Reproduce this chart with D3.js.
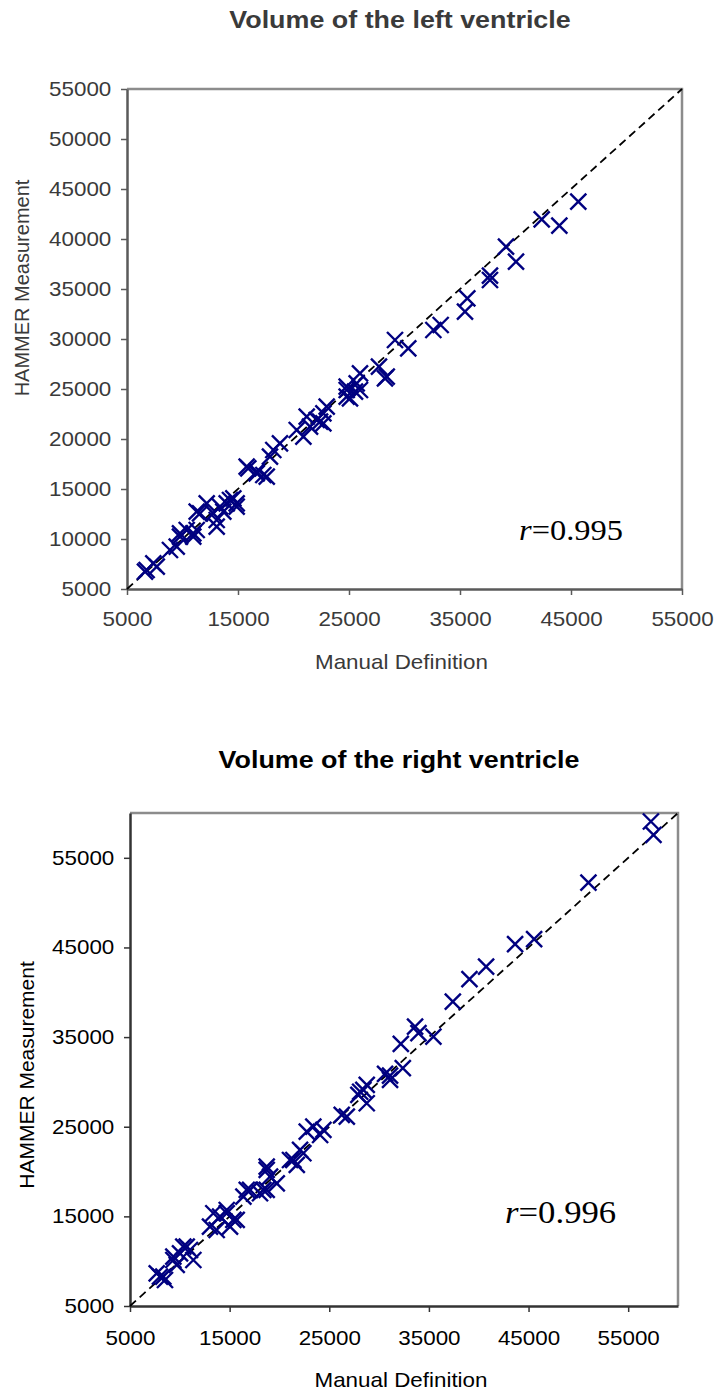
<!DOCTYPE html>
<html>
<head>
<meta charset="utf-8">
<script src="https://cdn.jsdelivr.net/npm/d3@7"></script>
<style>
  body { margin: 0; background: #fff; }
  svg { display: block; }
</style>
</head>
<body>
<div id="chart"></div>
<script>
// left ventricle: [manual, hammer]
const leftPoints = [
  [45658, 43730], [42360, 41970], [43950, 41330], [39144, 39230], [40045, 37730],
  [37700, 36330], [37700, 35900], [35660, 34070], [35450, 32730], [32600, 30900],
  [33260, 31400], [29144, 29900], [30340, 29070], [27700, 27230], [28400, 26230],
  [28240, 26070], [25990, 26570], [25690, 25570], [24790, 24900], [24790, 24230],
  [25990, 24900], [25090, 24070], [25540, 24730], [24790, 25230],
  [22690, 22570], [22090, 21900], [21490, 21230], [20290, 20900], [20890, 20230],
  [22690, 21570], [21190, 22230], [22990, 23230], [22390, 21730],
  [18780, 19570], [17880, 18230], [15780, 17230], [16680, 16570], [17590, 16230],
  [18180, 18900], [17280, 16400], [15930, 17070], [16680, 16730],
  [14280, 13900], [13380, 13230], [12770, 12570], [13080, 11230], [12180, 13570],
  [14880, 13230], [11280, 12730], [14580, 14070], [13980, 13570], [13080, 11900],
  [13680, 12730], [11580, 12570], [14880, 13570],
  [10380, 10900], [9775, 10230], [10970, 10230], [9480, 9230], [8870, 8900],
  [10970, 10570], [9775, 10570], [11280, 10900],
  [7370, 7570], [6770, 6900], [7680, 7230], [6620, 6730]
];

// right ventricle: [manual, hammer]
const rightPoints = [
  [57280, 59050], [57540, 57570], [51010, 52240], [45560, 45930], [43650, 45370],
  [40740, 42870], [39070, 41460], [37400, 38960], [35450, 35060], [33610, 36170],
  [33950, 35440], [32180, 34240], [32380, 31530], [30600, 30900], [31100, 30700],
  [31100, 30220], [28420, 29110], [28760, 29670], [27920, 28550], [28760, 27620],
  [28100, 28900], [26760, 26130], [26250, 26320],
  [24410, 24640], [23400, 25010], [24080, 24080], [22740, 24450], [22070, 22410],
  [21400, 21290], [22400, 22040], [21740, 20740], [21060, 21290],
  [18720, 20180], [19060, 19430], [18720, 17950], [19730, 18690], [18050, 17580],
  [16720, 17950], [16380, 17200], [18720, 20550], [17050, 17950], [18380, 17950],
  [14710, 15350], [14040, 14970], [15370, 14600], [15040, 13850], [13360, 15350],
  [13700, 13480], [14710, 15710], [15710, 14600], [13030, 13850],
  [11020, 11250], [10020, 10880], [9350, 10130], [11360, 10130], [9690, 9580],
  [10690, 11620], [10350, 11620], [9350, 10500],
  [8010, 8270], [8510, 7900], [8340, 8270], [7680, 8650]
];

const leftTicksX = [5000, 15000, 25000, 35000, 45000, 55000];
const leftTicksY = [5000, 10000, 15000, 20000, 25000, 30000, 35000, 40000, 45000, 50000, 55000];
const rightTicksX = [5000, 15000, 25000, 35000, 45000, 55000];
const rightTicksY = [5000, 15000, 25000, 35000, 45000, 55000];

const stretch = 1.12; // the source image is widened a little

const svg = d3.select("#chart").append("svg")
  .attr("width", 715)
  .attr("height", 1392);

const drawPanel = cfg => {
  const x = d3.scaleLinear().domain(cfg.domain).range([cfg.left, cfg.right]);
  const y = d3.scaleLinear().domain(cfg.domain).range([cfg.bottom, cfg.top]);
  const g = svg.append("g");

  // title
  g.append("text")
    .text(cfg.title)
    .attr("transform", `translate(${cfg.titleX},${cfg.titleY}) scale(${stretch},1)`)
    .style("font-family", "Liberation Sans, Arial, sans-serif")
    .style("font-size", "24px")
    .style("font-weight", 700)
    .style("fill", cfg.color)
    .style("text-anchor", "middle");

  // top and right frame
  g.append("path")
    .attr("d", `M${cfg.left},${cfg.top}H${cfg.right}V${cfg.bottom}`)
    .attr("fill", "none")
    .attr("stroke", "#8c8c8c")
    .attr("stroke-width", 2.5);

  // axes
  const xAxis = g.append("g")
    .attr("transform", `translate(0,${cfg.bottom})`)
    .call(d3.axisBottom(x).tickValues(cfg.ticksX).tickSize(6).tickSizeOuter(0).tickPadding(cfg.padX).tickFormat(d3.format("d")));
  const yAxis = g.append("g")
    .attr("transform", `translate(${cfg.left},0)`)
    .call(d3.axisLeft(y).tickValues(cfg.ticksY).tickSize(6).tickSizeOuter(0).tickPadding(8).tickFormat(d3.format("d")));

  [xAxis, yAxis].forEach(a => {
    a.select(".domain").attr("stroke", cfg.axisColor).attr("stroke-width", 2.5);
    a.selectAll(".tick line").attr("stroke", cfg.axisColor).attr("stroke-width", 1.5);
    a.selectAll("text")
      .style("font-family", "Liberation Sans, Arial, sans-serif")
      .style("font-size", "20px")
      .style("fill", cfg.color)
      .attr("transform", `scale(${stretch},1)`);
  });

  // identity line
  g.append("line")
    .attr("x1", x(cfg.domain[0]))
    .attr("y1", y(cfg.domain[0]))
    .attr("x2", x(cfg.lineEnd))
    .attr("y2", y(cfg.lineEnd))
    .attr("stroke", "#000")
    .attr("stroke-width", 1.8)
    .attr("stroke-dasharray", "8,5");

  // X markers
  const s = 8;
  g.selectAll(".mark")
    .data(cfg.points)
    .enter()
    .append("path")
    .attr("class", "mark")
    .attr("d", d => {
      const cx = x(d[0]), cy = y(d[1]);
      return `M${cx - s},${cy - s}L${cx + s},${cy + s}M${cx - s},${cy + s}L${cx + s},${cy - s}`;
    })
    .attr("stroke", "#000080")
    .attr("stroke-width", 2.4)
    .attr("fill", "none");

  // axis titles
  g.append("text")
    .text("Manual Definition")
    .attr("transform", `translate(${(cfg.left + cfg.right) / 2 - 3},${cfg.xLabelY}) scale(${stretch},1)`)
    .style("font-family", "Liberation Sans, Arial, sans-serif")
    .style("font-size", "20px")
    .style("fill", cfg.color)
    .style("text-anchor", "middle");

  g.append("text")
    .text("HAMMER Measurement")
    .attr("transform", `translate(${cfg.yLabelX},${cfg.yLabelY}) rotate(-90)`)
    .style("font-family", "Liberation Sans, Arial, sans-serif")
    .style("font-size", cfg.yLabelSize)
    .style("fill", cfg.color)
    .style("text-anchor", "middle");

  // correlation
  const rt = g.append("text")
    .attr("transform", `translate(${cfg.rX},${cfg.rY}) scale(${stretch},1)`)
    .style("font-family", "Liberation Serif, Times New Roman, serif")
    .style("font-size", cfg.rSize)
    .style("fill", "#000");
  rt.append("tspan").text("r").style("font-style", "italic");
  rt.append("tspan").text(cfg.rText);
};

drawPanel({
  title: "Volume of the left ventricle",
  titleX: 400, titleY: 28,
  color: "#3a3a3a", axisColor: "#5a5a5a",
  left: 127, right: 682, top: 89, bottom: 589,
  domain: [5000, 55000], lineEnd: 55000,
  ticksX: leftTicksX, ticksY: leftTicksY, padX: 17,
  points: leftPoints,
  xLabelY: 669, yLabelX: 29, yLabelY: 288, yLabelSize: "20px",
  rX: 519, rY: 540, rText: "=0.995", rSize: "29px"
});

drawPanel({
  title: "Volume of the right ventricle",
  titleX: 399, titleY: 768,
  color: "#000", axisColor: "#333",
  left: 130, right: 678, top: 813, bottom: 1306,
  domain: [5000, 60000], lineEnd: 60000,
  ticksX: rightTicksX, ticksY: rightTicksY, padX: 19,
  points: rightPoints,
  xLabelY: 1387, yLabelX: 34, yLabelY: 1075, yLabelSize: "21px",
  rX: 505, rY: 1223, rText: "=0.996", rSize: "31px"
});
</script>
</body>
</html>
